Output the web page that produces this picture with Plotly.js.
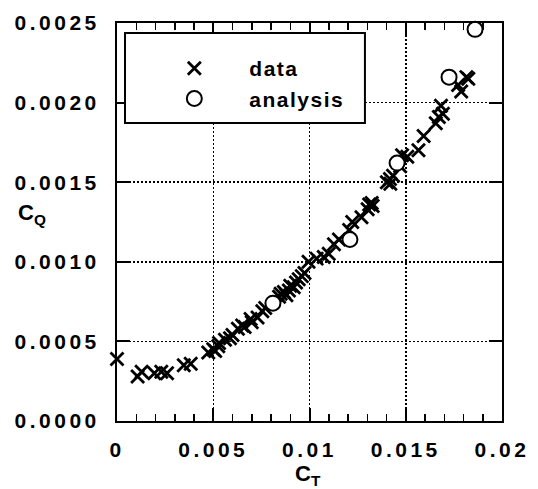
<!DOCTYPE html>
<html>
<head>
<meta charset="utf-8">
<script src="https://cdn.plot.ly/plotly-3.0.1.min.js"></script>
<style>
  html, body { margin: 0; padding: 0; background: #fff; }
  #chart .xtick text, #chart .ytick text { letter-spacing: 3.5px; }
  #chart .legendtext { letter-spacing: 1.5px; }
</style>
</head>
<body>
<div id="chart" style="width:538px;height:489px"></div>
<script>
// Measured thrust coefficient (C_T) vs torque coefficient (C_Q)
const dataCT = [
  0.0000, 0.00107, 0.00128, 0.00194, 0.0023, 0.0026, 0.00347, 0.00383,
  0.00474, 0.0050, 0.0051, 0.00526, 0.0053, 0.00561, 0.00587, 0.0060,
  0.00628, 0.0065, 0.00663, 0.00694, 0.0070, 0.0073, 0.00755, 0.0077,
  0.00842, 0.0085, 0.00867, 0.0088, 0.00893, 0.0090, 0.00918, 0.0093,
  0.00944, 0.0096, 0.00974, 0.00995, 0.01037, 0.01074, 0.0110, 0.01127,
  0.01153, 0.01206, 0.01222, 0.0127, 0.01302, 0.0131, 0.01328, 0.01323,
  0.01402, 0.0142, 0.01418, 0.01434, 0.01471, 0.01481, 0.01508, 0.01566,
  0.01593, 0.01656, 0.01672, 0.01693, 0.01683, 0.01772, 0.01788, 0.01825,
  0.01815
];
const dataCQ = [
  0.00039, 0.00028, 0.00031, 0.00030, 0.00031, 0.00030, 0.00035, 0.00036,
  0.00043, 0.00045, 0.00044, 0.00047, 0.00049, 0.00051, 0.00052, 0.00054,
  0.00058, 0.00060, 0.00059, 0.00064, 0.00062, 0.00065, 0.00069, 0.00071,
  0.00078, 0.00080, 0.00081, 0.00079, 0.00082, 0.00085, 0.00084, 0.00087,
  0.00089, 0.00091, 0.00093, 0.00100, 0.00102, 0.00103, 0.00105, 0.00111,
  0.00114, 0.00120, 0.00125, 0.00128, 0.00133, 0.00136, 0.00135, 0.00137,
  0.00150, 0.00149, 0.00152, 0.00154, 0.00160, 0.00167, 0.00166, 0.00170,
  0.00179, 0.00187, 0.00191, 0.00193, 0.00198, 0.00211, 0.00207, 0.00215,
  0.00216
];

// Predicted values
const analysisCT = [0.0081, 0.0121, 0.01455, 0.01725, 0.0186];
const analysisCQ = [0.00074, 0.00114, 0.00162, 0.00216, 0.00246];

const xTickVals = [0, 0.005, 0.01, 0.015, 0.02];
const xTickText = ['0', '0.005', '0.01', '0.015', '0.02'];
const yTickVals = [0, 0.0005, 0.0010, 0.0015, 0.0020, 0.0025];
const yTickText = ['0.0000', '0.0005', '0.0010', '0.0015', '0.0020', '0.0025'];

const FONT = 'Liberation Sans, Arial, Helvetica, sans-serif';
const NB = '\u00a0\u00a0\u00a0';  // keeps room for the spaced-out legend text

const traces = [
  {
    x: dataCT, y: dataCQ, type: 'scatter', mode: 'markers', name: 'data' + NB,
    cliponaxis: false,
    marker: { symbol: 'x-thin-open', size: 13, color: '#000', line: { color: '#000', width: 2.8 } }
  },
  {
    x: analysisCT, y: analysisCQ, type: 'scatter', mode: 'markers', name: 'analysis' + NB,
    cliponaxis: false,
    marker: { symbol: 'circle', size: 15, color: '#fff', line: { color: '#000', width: 2 } }
  }
];

const axisCommon = {
  showline: true, linecolor: '#000', linewidth: 2, mirror: 'allticks',
  ticks: 'inside', ticklen: 13, tickwidth: 2, tickcolor: '#000',
  showgrid: true, gridcolor: '#000', gridwidth: 1.5, griddash: '2px,2px',
  zeroline: false,
  tickfont: { family: FONT, size: 21, color: '#000', weight: 'bold' }
};

const layout = {
  width: 538, height: 489,
  margin: { l: 117, r: 36, t: 23, b: 68 },
  paper_bgcolor: '#fff', plot_bgcolor: '#fff',
  showlegend: true,
  xaxis: Object.assign({}, axisCommon, {
    range: [0, 0.02], tickmode: 'array', tickvals: xTickVals, ticktext: xTickText,
    ticklabelstandoff: 9,
    minor: { tickmode: 'linear', tick0: 0, dtick: 0.001, ticks: 'inside', ticklen: 7, tickwidth: 1.5, tickcolor: '#000', showgrid: false }
  }),
  yaxis: Object.assign({}, axisCommon, {
    range: [0, 0.0025], tickmode: 'array', tickvals: yTickVals, ticktext: yTickText,
    ticklabelstandoff: 11
  }),
  legend: {
    x: 0.058, y: 0.937, xanchor: 'left', yanchor: 'top',
    bgcolor: 'rgba(0,0,0,0)', borderwidth: 0,
    itemwidth: 100,
    font: { family: FONT, size: 21, color: '#000', weight: 'bold' }
  },
  shapes: [
    {
      type: 'rect', xref: 'paper', yref: 'paper',
      x0: 0.0208, x1: 0.644, y0: 0.749, y1: 0.975,
      line: { color: '#000', width: 2 }, fillcolor: '#fff', layer: 'above'
    }
  ],
  annotations: [
    {
      text: 'C<sub>Q</sub>', xref: 'paper', yref: 'paper',
      x: -0.222, y: 0.52, xanchor: 'center', yanchor: 'middle', showarrow: false,
      font: { family: FONT, size: 22, color: '#000', weight: 'bold' }
    },
    {
      text: 'C<sub>T</sub>', xref: 'paper', yref: 'paper',
      x: 0.495, y: -0.135, xanchor: 'center', yanchor: 'middle', showarrow: false,
      font: { family: FONT, size: 22, color: '#000', weight: 'bold' }
    }
  ]
};

Plotly.newPlot('chart', traces, layout, { displayModeBar: false, staticPlot: true });
</script>
</body>
</html>
